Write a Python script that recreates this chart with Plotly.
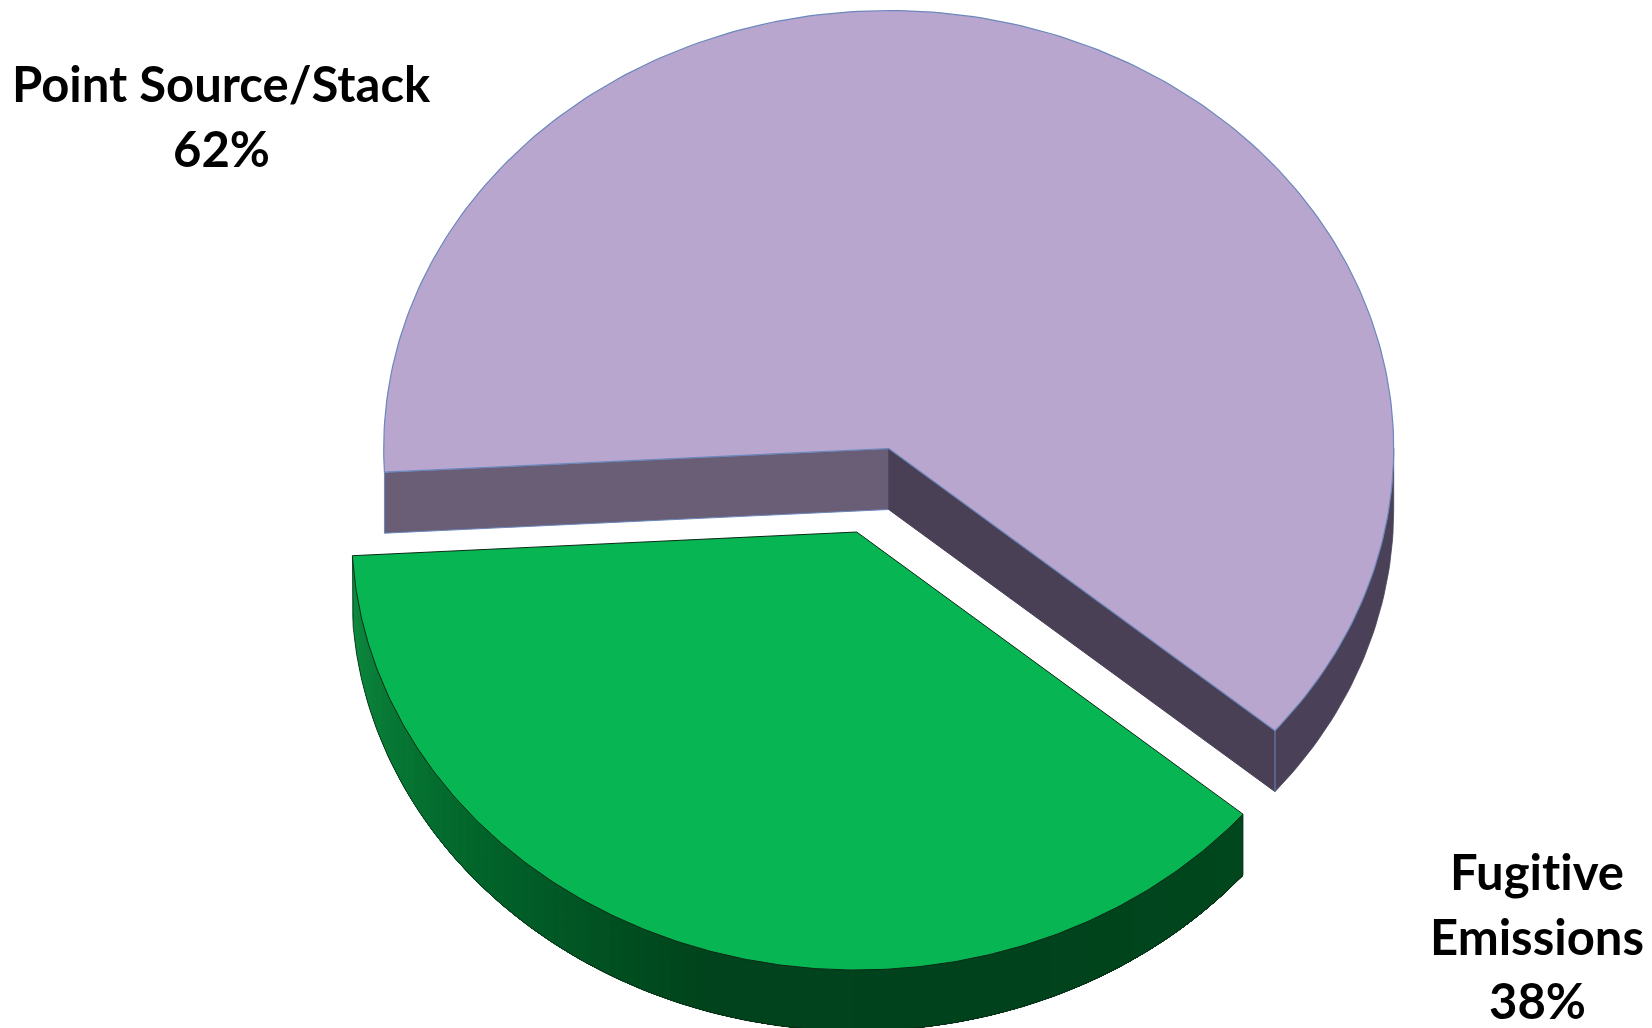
import numpy as np
import plotly.graph_objects as go

# Emission shares by source type
sources = ["Point Source/Stack", "Fugitive Emissions"]
shares = [62, 38]
label_lines = [["Point Source/Stack"], ["<span style='font-variant-ligatures:none'>Fugitive</span>", "Emissions"]]

# Canvas size and projected pie geometry (screen pixels, y pointing down)
WIDTH, HEIGHT = 1652, 1028
CENTER_X, CENTER_Y = 888.7, 448.5
RADIUS_X, RADIUS_Y = 505.0, 438.0
DEPTH = 61.0
EXPLODE_X, EXPLODE_Y = -32.0, 83.5
FIRST_SLICE_DEG = -40.1

# Colours
PURPLE_TOP = "#b9a6cf"
PURPLE_EDGE = "#6b87bb"
PURPLE_CUT_LEFT = "#6a5e77"
PURPLE_CUT_RIGHT = "#4a4056"
PURPLE_RIM = "#4a4158"
GREEN_TOP = "#07b553"
GREEN_EDGE = "#0b2a16"
GREEN_RIM_STOPS = [(0.0, (14, 140, 64)), (0.25, (3, 105, 45)), (0.5, (0, 68, 28)),
                   (0.75, (0, 66, 28)), (1.0, (0, 72, 30))]

FONT = dict(family="Lato, Carlito, sans-serif", size=49, color="black", weight=700)


def arc(cx, cy, start, stop, n=240):
    t = np.radians(np.linspace(start, stop, n))
    return cx + RADIUS_X * np.cos(t), cy - RADIUS_Y * np.sin(t)


def polygon(x, y, fill, line=None, width=1.0):
    return go.Scatter(
        x=x, y=y, mode="lines", fill="toself", fillcolor=fill,
        line=dict(color=line or fill, width=width),
        hoverinfo="skip", showlegend=False,
    )


def rim(cx, cy, start, stop, color, width=0.8):
    ax, ay = arc(cx, cy, start, stop, 40)
    return polygon(np.r_[ax, ax[::-1]], np.r_[ay, ay[::-1] + DEPTH], color, width=width)


def corner(cx, cy, angle):
    t = np.radians(angle)
    return cx + RADIUS_X * np.cos(t), cy - RADIUS_Y * np.sin(t)


# Slice angles follow directly from the shares
sweeps = np.array(shares) / sum(shares) * 360.0
purple_start = FIRST_SLICE_DEG
purple_stop = purple_start + sweeps[0]
green_start = purple_stop
green_stop = green_start + sweeps[1]

fig = go.Figure()

# Large slice: cut faces, outer wall, then the top surface
lx, ly = corner(CENTER_X, CENTER_Y, purple_stop)
rx, ry = corner(CENTER_X, CENTER_Y, purple_start)
fig.add_trace(polygon([CENTER_X, lx, lx, CENTER_X, CENTER_X],
                      [CENTER_Y, ly, ly + DEPTH, CENTER_Y + DEPTH, CENTER_Y],
                      PURPLE_CUT_LEFT, PURPLE_EDGE, 1.0))
fig.add_trace(polygon([CENTER_X, rx, rx, CENTER_X, CENTER_X],
                      [CENTER_Y, ry, ry + DEPTH, CENTER_Y + DEPTH, CENTER_Y],
                      PURPLE_CUT_RIGHT))
fig.add_trace(rim(CENTER_X, CENTER_Y, purple_start, 0.0, PURPLE_RIM))
fig.add_trace(go.Scatter(x=[rx, rx], y=[ry, ry + DEPTH], mode="lines",
                         line=dict(color=PURPLE_EDGE, width=1.0),
                         hoverinfo="skip", showlegend=False))
tx, ty = arc(CENTER_X, CENTER_Y, purple_start, purple_stop)
fig.add_trace(polygon(np.r_[CENTER_X, tx, CENTER_X], np.r_[CENTER_Y, ty, CENTER_Y],
                      PURPLE_TOP, PURPLE_EDGE, 1.2))

# Exploded slice: shaded outer wall painted back to front with each band
# running on to the far end, so neighbouring bands leave no seams
gx, gy = CENTER_X + EXPLODE_X, CENTER_Y + EXPLODE_Y
edges = np.linspace(green_start, green_stop, 91)
stop_pos = [s[0] for s in GREEN_RIM_STOPS]
for a in edges[:-1]:
    u = (a - green_start) / (green_stop - green_start)
    rgb = [int(np.interp(u, stop_pos, [s[1][i] for s in GREEN_RIM_STOPS])) for i in range(3)]
    fig.add_trace(rim(gx, gy, a, green_stop, f"rgb({rgb[0]},{rgb[1]},{rgb[2]})", width=0))

# Wall outline along the lower edge and both ends
ox, oy = arc(gx, gy, green_start, green_stop)
fig.add_trace(go.Scatter(x=np.r_[ox[0], ox, ox[-1]], y=np.r_[oy[0], oy + DEPTH, oy[-1]],
                         mode="lines", line=dict(color=GREEN_EDGE, width=0.8),
                         hoverinfo="skip", showlegend=False))
fig.add_trace(polygon(np.r_[gx, ox, gx], np.r_[gy, oy, gy], GREEN_TOP, GREEN_EDGE, 1.0))

# Text labels: one annotation per line for an even baseline spacing
label_anchors = [(221, 83, 65), (1537, 871, 64.5)]
annotations = []
for lines, share, (ax_, ay_, step) in zip(label_lines, shares, label_anchors):
    for i, text in enumerate(lines + [f"{share}%"]):
        annotations.append(dict(x=ax_, y=ay_ + i * step, text=text, showarrow=False,
                                xanchor="center", yanchor="middle", font=FONT))

fig.update_layout(
    width=WIDTH, height=HEIGHT,
    margin=dict(l=0, r=0, t=0, b=0),
    paper_bgcolor="white", plot_bgcolor="white",
    showlegend=False,
    annotations=annotations,
    xaxis=dict(range=[0, WIDTH], visible=False, fixedrange=True),
    yaxis=dict(range=[HEIGHT, 0], visible=False, fixedrange=True),
)

fig.write_html("out.html", config={"displayModeBar": False})
